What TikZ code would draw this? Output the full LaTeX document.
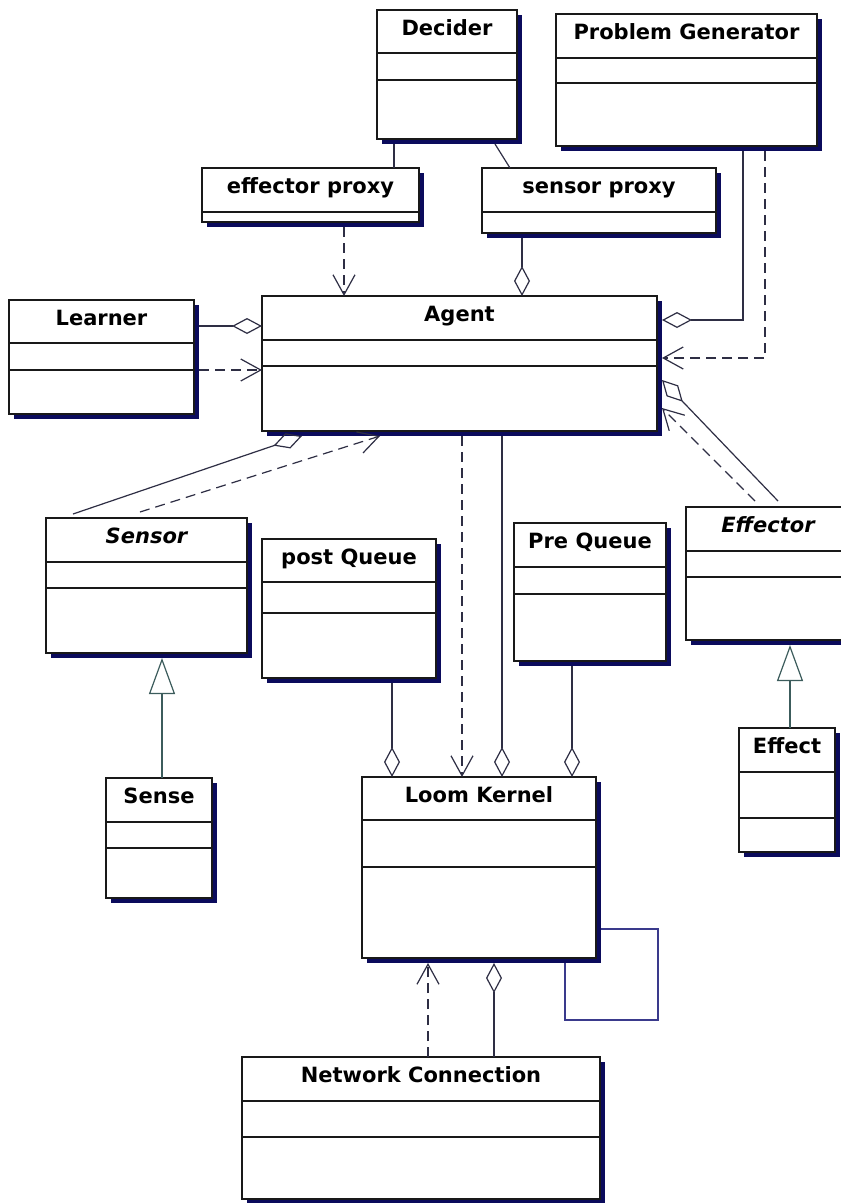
\documentclass[tikz,border=0pt]{standalone}
\usepackage{fontspec}
\setmainfont{DejaVu Sans}
\usetikzlibrary{arrows.meta,calc}
\definecolor{shadowc}{HTML}{0B0B5C}
\definecolor{linec}{HTML}{2E2E44}
\definecolor{genc}{HTML}{3C5C5C}
\definecolor{loopc}{HTML}{3A3A8C}
\tikzset{
 clsbox/.style={draw=black!90, line width=1.3pt, fill=white, inner sep=0pt, outer sep=0pt},
 sepline/.style={draw=black!90, line width=1.2pt},
 ttl/.style={font=\fontsize{21}{25}\selectfont\bfseries, inner sep=0pt},
 ttli/.style={font=\fontsize{21}{25}\selectfont\bfseries\itshape, inner sep=0pt},
 conn/.style={draw=linec, line width=1.2pt},
 dep/.style={conn, dash pattern=on 10pt off 6pt, -{Straight Barb[length=20pt,width=22pt]}},
 agg/.style={conn, -{Diamond[open,length=30pt,width=16pt]}},
 gen/.style={draw=genc, line width=1.2pt, -{Triangle[open,length=36pt,width=26pt]}},
 selfloop/.style={draw=loopc, line width=1.2pt},
}
% name, L, T, R, B, sep1, sep2, title, title style
\newcommand{\umlbox}[9]{%
  \fill[shadowc] (#2+5,#3+5) rectangle (#4+5,#5+5);
  \node[clsbox, minimum width={(#4-#2)*1pt}, minimum height={(#5-#3)*1pt}, anchor=north west] (#1) at (#2,#3) {};
  \draw[sepline] (#2,#6) -- (#4,#6);
  \draw[sepline] (#2,#7) -- (#4,#7);
  \node[#9, anchor=base] (#1-t) at ({(#2+#4)/2},#3+25) {#8};
}
\begin{document}
\begin{tikzpicture}[x=1pt,y=-1pt]
\useasboundingbox[fill=white] (0,0) rectangle (841,1203);
% classes
\umlbox{decider}{377}{10}{517}{139}{53}{80}{Decider}{ttl}
\umlbox{pg}{556}{14}{817}{146}{58}{83}{Problem Generator}{ttl}
\umlbox{effproxy}{202}{168}{419}{222}{212}{212}{effector proxy}{ttl}
\umlbox{senproxy}{482}{168}{716}{233}{212}{212}{sensor proxy}{ttl}
\umlbox{learner}{9}{300}{194}{414}{343}{370}{Learner}{ttl}
\umlbox{agent}{262}{296}{657}{431}{340}{366}{Agent}{ttl}
\umlbox{sensor}{46}{518}{247}{653}{562}{588}{Sensor}{ttli}
\umlbox{postq}{262}{539}{436}{678}{582}{613}{post Queue}{ttl}
\umlbox{preq}{514}{523}{666}{661}{567}{594}{Pre Queue}{ttl}
\umlbox{effector}{686}{507}{850}{640}{551}{577}{Effector}{ttli}
\umlbox{sense}{106}{778}{212}{898}{822}{848}{Sense}{ttl}
\umlbox{effect}{739}{728}{835}{852}{772}{818}{Effect}{ttl}
\umlbox{lk}{362}{777}{596}{958}{820}{867}{Loom Kernel}{ttl}
\umlbox{nc}{242}{1057}{600}{1199}{1101}{1137}{Network Connection}{ttl}
% Decider to proxies
\coordinate (d1) at ($(decider.south west)+(17,5)$);
\draw[conn] (d1) -- (d1 |- effproxy.north);
\draw[conn] ($(decider.south west)+(118,5)$) -- ($(senproxy.north west)+(28,0)$);
% proxies to Agent
\coordinate (ep1) at ($(effproxy.south west)+(142,5)$);
\draw[dep] (ep1) -- (ep1 |- agent.north);
\coordinate (sp1) at ($(senproxy.south west)+(40,5)$);
\draw[agg] (sp1) -- (sp1 |- agent.north);
% Problem Generator to Agent
\draw[agg] ($(pg.south west)+(187,5)$) |- ($(agent.north east)+(5,24)$);
\draw[dep] ($(pg.south west)+(209,5)$) |- ($(agent.north east)+(5,62)$);
% Learner to Agent
\draw[agg] ($(learner.north east)+(5,26)$) -- ($(agent.north west)+(0,30)$);
\draw[dep] ($(learner.north east)+(5,70)$) -- ($(agent.north west)+(0,74)$);
% Sensor to Agent
\draw[agg] ($(sensor.north west)+(27,-4)$) -- ($(agent.south west)+(40,5)$);
\draw[dep] ($(sensor.north west)+(94,-6)$) -- ($(agent.south west)+(118,5)$);
% Effector to Agent
\draw[agg] ($(effector.north west)+(92,-6)$) -- ($(agent.north east)+(5,84)$);
\draw[dep] ($(effector.north west)+(69,-6)$) -- ($(agent.north east)+(5,112)$);
% Agent to Loom Kernel
\coordinate (a1) at ($(agent.south west)+(200,5)$);
\draw[dep] (a1) -- (a1 |- lk.north);
\coordinate (a2) at ($(agent.south west)+(240,5)$);
\draw[agg] (a2) -- (a2 |- lk.north);
% queues to Loom Kernel
\coordinate (pq1) at ($(postq.south west)+(130,5)$);
\draw[agg] (pq1) -- (pq1 |- lk.north);
\coordinate (prq1) at ($(preq.south west)+(58,5)$);
\draw[agg] (prq1) -- (prq1 |- lk.north);
% generalizations
\coordinate (se1) at ($(sense.north west)+(56,0)$);
\draw[gen] (se1) -- ($(se1 |- sensor.south)+(0,5)$);
\coordinate (ef1) at ($(effect.north west)+(51,0)$);
\draw[gen] (ef1) -- ($(ef1 |- effector.south)+(0,5)$);
% Network Connection to Loom Kernel
\coordinate (nc1) at ($(nc.north west)+(186,0)$);
\draw[dep] (nc1) -- ($(nc1 |- lk.south)+(0,5)$);
\coordinate (nc2) at ($(nc.north west)+(252,0)$);
\draw[agg] (nc2) -- ($(nc2 |- lk.south)+(0,5)$);
% self association
\draw[selfloop] ($(lk.north east)+(5,152)$) -- ++(57,0) |- ($(lk.south west)+(203,62)$) -- ($(lk.south west)+(203,5)$);
\end{tikzpicture}
\end{document}
